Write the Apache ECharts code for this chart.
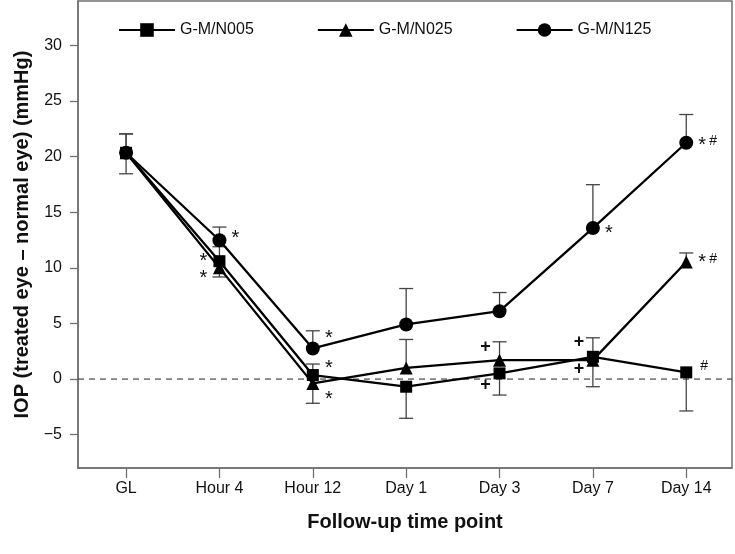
<!DOCTYPE html>
<html>
<head>
<meta charset="utf-8">
<script src="https://cdn.jsdelivr.net/npm/echarts@6/dist/echarts.min.js"></script>
<style>html,body{margin:0;padding:0;background:#fff}#c{width:735px;height:554px}</style>
</head>
<body>
<div id="c"></div>
<script>
// ---- data ----
var categories = ['GL', 'Hour 4', 'Hour 12', 'Day 1', 'Day 3', 'Day 7', 'Day 14'];
var yTicks = [-5, 0, 5, 10, 15, 20, 25, 30];
var seriesNames = ['G-M/N005', 'G-M/N025', 'G-M/N125'];
var n005 = [20.35, 10.6, 0.36, -0.69, 0.51, 2.0, 0.6];
var n025 = [20.35, 10.0, -0.39, 1.0, 1.7, 1.7, 10.53];
var n125 = [20.35, 12.48, 2.75, 4.91, 6.1, 13.58, 21.25];
// error bar ends (square: lower SD, triangle/circle: upper SD)
var n005Low = [18.46, 9.18, -2.18, -3.53, -1.44, -0.69, -2.87];
var n025High = [22.05, 11.9, 1.35, 3.56, 3.35, 3.71, 11.34];
var n125High = [22.05, 13.67, 4.34, 8.14, 7.78, 17.48, 23.79];
// significance marks: [category index, value, text, side]
var marks = [
  [1, 13.13, '*', 'r'], [1, 10.98, '*', 'l'], [1, 9.48, '*', 'l'],
  [2, 4.13, '*', 'r'], [2, 1.44, '*', 'r'], [2, -1.35, '*', 'r'],
  [4, 2.9, '+', 'l'], [4, -0.54, '+', 'l'],
  [5, 13.55, '*', 'r'], [5, 3.29, '+', 'l'], [5, 0.87, '+', 'l'],
  [6, 21.45, '* #', 'r'], [6, 10.89, '* #', 'r'], [6, 1.08, '#', 'r']
];

// ---- build ----
function pts(arr) { return arr.map(function (v, i) { return [i, v]; }); }
var errData = [];
for (var i = 0; i < categories.length; i++) {
  errData.push([i, n005[i], n005Low[i]]);
  errData.push([i, n025[i], n025High[i]]);
  errData.push([i, n125[i], n125High[i]]);
}
var font = '"Liberation Sans", Arial, sans-serif';
var chart = echarts.init(document.getElementById('c'), null, {renderer: 'canvas'});
function lineSeries(name, data, symbol, size, z) {
  return {
    name: name, type: 'line', data: pts(data), symbol: symbol, symbolSize: size,
    lineStyle: {color: '#000', width: 2.3}, itemStyle: {color: '#000'},
    z: z, animation: false
  };
}
function markText(txt, x, y, size, bold, align) {
  return {type: 'text', x: x, y: y, style: {text: txt, fontFamily: font, fontSize: size,
    fontWeight: bold ? 'bold' : 'normal', fill: '#111', align: align, verticalAlign: 'middle'}};
}
chart.setOption({
  animation: false,
  grid: {left: 78, right: 3, top: 1, bottom: 86, show: true, borderColor: '#707070', borderWidth: 1.5},
  legend: {
    data: seriesNames, left: 113, top: 17, itemWidth: 56, itemHeight: 17, itemGap: 63,
    textStyle: {fontFamily: font, fontSize: 16, color: '#111'}
  },
  xAxis: {
    type: 'value', min: -0.515, max: 6.49,
    axisLine: {onZero: false, lineStyle: {color: '#707070', width: 1.5}},
    axisTick: {show: true, length: 10, customValues: [0, 1, 2, 3, 4, 5, 6], lineStyle: {color: '#707070', width: 1.3}},
    axisLabel: {customValues: [0, 1, 2, 3, 4, 5, 6], formatter: function (v) { return categories[Math.round(v)]; },
      fontFamily: font, fontSize: 16, color: '#111', margin: 13},
    splitLine: {show: false},
    name: 'Follow-up time point', nameLocation: 'middle', nameGap: 44,
    nameTextStyle: {fontFamily: font, fontSize: 20, fontWeight: 'bold', color: '#111'}
  },
  yAxis: {
    type: 'value', min: -8, max: 34,
    axisLine: {show: true, onZero: false, lineStyle: {color: '#707070', width: 1.5}},
    axisTick: {show: true, length: 8, customValues: yTicks, lineStyle: {color: '#707070', width: 1.3}},
    axisLabel: {customValues: yTicks, fontFamily: font, fontSize: 16, color: '#111', margin: 16,
      formatter: function (v) { return String(v).replace('-', '\u2212'); }},
    splitLine: {show: false},
    name: 'IOP (treated eye \u2013 normal eye) (mmHg)', nameLocation: 'middle', nameGap: 45,
    nameTextStyle: {fontFamily: font, fontSize: 20, fontWeight: 'bold', color: '#111'}
  },
  series: [
    {
      type: 'custom', name: 'err', z: 1, silent: true, data: errData,
      renderItem: function (params, api) {
        var a = api.coord([api.value(0), api.value(1)]);
        var b = api.coord([api.value(0), api.value(2)]);
        var hw = 7;
        var st = {stroke: '#444', lineWidth: 1.3};
        return {type: 'group', children: [
          {type: 'line', shape: {x1: a[0], y1: a[1], x2: b[0], y2: b[1]}, style: st},
          {type: 'line', shape: {x1: b[0] - hw, y1: b[1], x2: b[0] + hw, y2: b[1]}, style: st}
        ]};
      }
    },
    {
      type: 'line', name: 'zero', data: [[-0.515, 0], [6.49, 0]], symbol: 'none', silent: true,
      lineStyle: {color: '#222', width: 1, type: [6, 5]}, z: 0
    },
    lineSeries(seriesNames[0], n005, 'rect', 12, 5),
    lineSeries(seriesNames[1], n025, 'triangle', 13, 4),
    lineSeries(seriesNames[2], n125, 'circle', 14, 3),
    {
      type: 'custom', name: 'marks', z: 6, silent: true, data: marks.map(function (m) { return [m[0], m[1]]; }),
      renderItem: function (params, api) {
        var m = marks[params.dataIndex];
        var p = api.coord([m[0], m[1]]);
        var txt = m[2];
        var dir = m[3] === 'r' ? 1 : -1;
        var x = p[0] + dir * 16, y = p[1];
        var kids = [];
        if (txt.indexOf('*') >= 0) {
          kids.push(markText('*', x, y + 5, 20, false, 'center'));
          if (txt.indexOf('#') >= 0) kids.push(markText('#', x + 11, y + 1, 14, false, 'center'));
        } else if (txt === '#') {
          kids.push(markText('#', x + 2, y - 1, 14, false, 'center'));
        } else {
          kids.push(markText('+', x + 2, y, 18, true, 'center'));
        }
        return {type: 'group', children: kids};
      }
    }
  ]
});
</script>
</body>
</html>
